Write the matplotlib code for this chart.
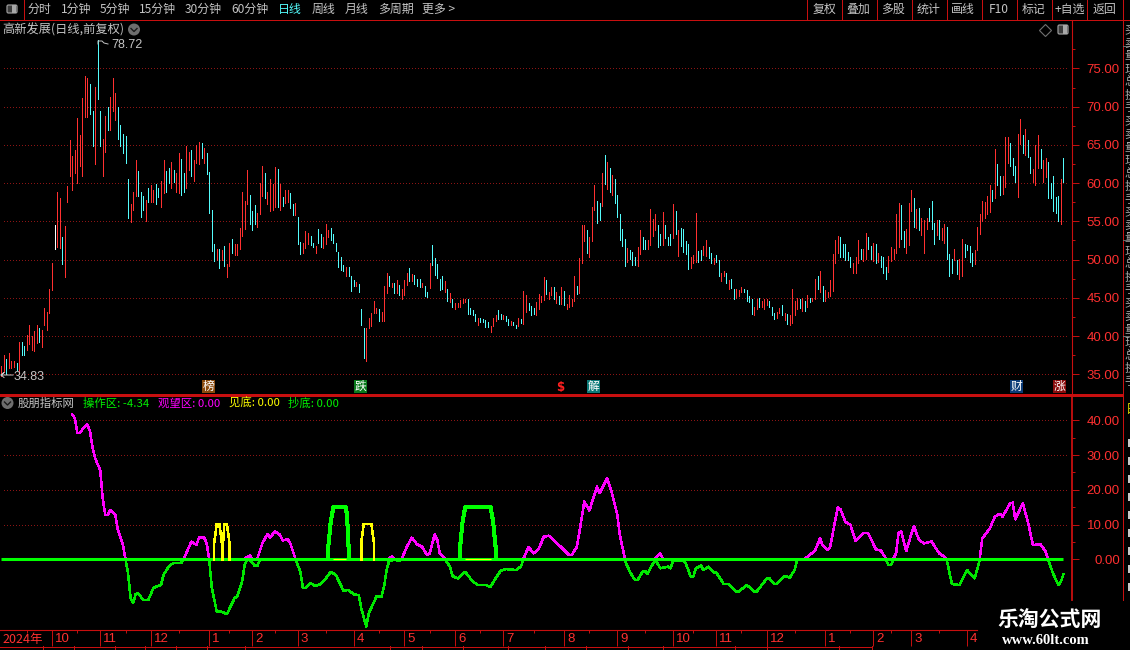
import numpy as np
import matplotlib
matplotlib.use('Agg')
import matplotlib.pyplot as plt
from matplotlib.patches import Rectangle, Circle, FancyBboxPatch

plt.rcParams['font.family'] = ['Noto Sans CJK SC', 'DejaVu Sans']
plt.rcParams['axes.unicode_minus'] = False

# K线 每根的最高/最低/颜色 r=涨 c=跌 w=平
bar_high = [
    36.1, 37.5, 37, 37.8, 36.8, 36.8, 36.5, 39.2, 39.2, 38.7,
    40.2, 41.5, 40, 40.7, 41.5, 41, 40.8, 43.7, 43.2, 46.1,
    49.5, 54.5, 58.8, 58, 53, 54.4, 59.6, 65.7, 63.5, 64.4,
    68.5, 66.3, 71.2, 74, 73.8, 73, 69.4, 72.6, 78.72, 69.5,
    65.8, 68.8, 70, 71.3, 73.8, 71.8, 70, 67.6, 66.4, 66.2,
    60.6, 57.3, 58.8, 63, 61.6, 58.9, 58.3, 57.8, 59.3, 59.7,
    59.1, 59.9, 59.3, 60.3, 63, 61.6, 62, 62.8, 61.7, 61.3,
    63.9, 63.2, 61.3, 64.8, 64.1, 64.3, 63, 65, 65.4, 65.2,
    64.6, 64, 61.4, 56.5, 52, 51.4, 51.4, 51.2, 51.8, 49.4,
    52.2, 52.7, 52.1, 52, 54.1, 58.8, 57.6, 61.7, 58.4, 56.3,
    57.1, 56.1, 60, 62.3, 61.3, 58.8, 60.6, 59.9, 62.1, 61.9,
    59.9, 58.2, 59.1, 59.1, 58.7, 57.3, 57.4, 55.6, 52.3, 52.2,
    53.8, 53.5, 53.1, 52.2, 51.8, 54, 53.3, 52.9, 54.6, 53.9,
    54.1, 53.3, 52.2, 51, 50.3, 49.3, 49, 49, 47.8, 47.3,
    47.1, 46.8, 43.6, 41.1, 41, 42.3, 43, 44.6, 43.7, 43.5,
    43.1, 46.5, 48.2, 47.8, 47, 46.9, 47.3, 46.7, 46.1, 47.3,
    48.3, 48.9, 48.1, 48, 47.5, 47.5, 47, 46.5, 45.7, 49.5,
    51.9, 50.2, 49.4, 47.5, 47.8, 47.2, 46.2, 45.6, 44.9, 44.3,
    44.3, 44.7, 44.8, 44.9, 44.8, 43.7, 43.4, 42.9, 42.3, 42.3,
    42.2, 42.1, 41.8, 41.3, 42.3, 42.7, 43.4, 42.9, 42.7, 42.6,
    42.2, 42, 41.9, 41.4, 42.3, 42.2, 45.9, 45.4, 44.3, 43.9,
    43.7, 44.5, 45.5, 45.2, 47.7, 47.3, 45.7, 46.4, 46.4, 45.7,
    45.2, 46.4, 45.9, 44.2, 45.4, 44.9, 47.8, 46.5, 50.2, 54.5,
    54.5, 53.9, 52.9, 56.9, 59.8, 57.7, 57.4, 61.3, 63.7, 62.8,
    62, 61.1, 60.5, 58.5, 56, 54, 52.7, 51.5, 51.3, 51,
    50.4, 51.6, 53.9, 52.9, 52.6, 52.6, 56.6, 55.3, 56, 54.5,
    53.4, 56.2, 54.5, 53, 53.4, 57.3, 56.4, 53.9, 54.1, 54,
    52.4, 52.1, 50.4, 50.6, 56.1, 51.1, 51.3, 51.8, 52.6, 51.6,
    50.8, 50.2, 50.6, 50, 48.2, 48.5, 48.3, 47.3, 47.5, 46.1,
    46.2, 46, 46.4, 46.2, 46, 45.2, 44.9, 43.8, 44.8, 45,
    44.6, 44.8, 44.8, 44.6, 43.8, 43, 43.1, 43.7, 44, 43,
    42.9, 42.8, 46.2, 44.6, 45, 44.9, 45, 44.6, 45.4, 45,
    45, 47.4, 47.8, 48.5, 46.6, 46, 45.8, 47.3, 50.7, 52.6,
    53.1, 53, 52, 52, 51, 50.4, 49.5, 50.3, 52.6, 51.4,
    51.4, 53.5, 53, 51.8, 52.2, 52, 50.8, 50.5, 50.3, 49,
    50.5, 51.6, 51.4, 56, 57.4, 57.1, 53.8, 54, 57.4, 59.1,
    58, 56.6, 56.8, 55.4, 55.2, 55.5, 56.8, 57.6, 54.8, 55.2,
    55.2, 54.1, 54.7, 54.2, 50.7, 50.1, 51.4, 50, 50.1, 52.7,
    52.1, 51.9, 51.8, 50.8, 51.3, 54.2, 56, 57.7, 57.5, 58.3,
    59.8, 59.1, 64.5, 62.5, 60.9, 61, 66.1, 66, 65.3, 63.3,
    62.3, 66.4, 68.4, 66.3, 67.1, 65.6, 63.4, 61.9, 65, 66.3,
    64.5, 63, 63.3, 62.8, 60, 60.9, 58.2, 58.3, 60.6, 63.3,
]
bar_low = [
    34.83, 35.35, 35.1, 35.8, 35.8, 36, 35.6, 35.1, 37.5, 37.5,
    38.2, 38.9, 38.2, 38.1, 39.1, 39.2, 38.6, 41.4, 40.8, 43,
    46, 51.4, 51.6, 51.5, 49.4, 47.7, 57.5, 61, 59.1, 61.3,
    60, 62.2, 60.9, 68.7, 68.7, 69, 64.9, 62.5, 71, 64.8,
    61, 64.1, 67, 67, 69.5, 68.2, 65.8, 64.9, 64, 62.6,
    55.4, 54.9, 56.5, 58.3, 58.3, 55.6, 56.5, 55.1, 57.5, 57.5,
    57.5, 57.3, 58.2, 56.9, 58.7, 58.9, 60, 59.3, 60.2, 58.9,
    58.7, 58.5, 58.8, 59.3, 61.7, 60.9, 60.3, 62.6, 62.5, 63.3,
    62.6, 61.2, 56.1, 51.1, 49.8, 50, 48.9, 50, 49.1, 47.7,
    49.1, 50.9, 50.6, 50.6, 51.4, 53.1, 54, 57.3, 54.7, 53.9,
    54.7, 54.2, 56, 58.3, 58.1, 57.3, 56.3, 56.5, 56.9, 56.9,
    56.5, 57, 57.4, 57.5, 56.8, 55.8, 55.8, 52, 50.7, 50.9,
    51.5, 52.1, 51.9, 51.6, 50.8, 52.2, 51.6, 51.5, 52, 53,
    52.6, 52.2, 51.1, 49, 48.6, 48.5, 47.9, 47.9, 45.9, 46.5,
    46.6, 45.7, 41.4, 37.1, 36.8, 41, 41.3, 43, 43, 42,
    42, 42, 45.6, 46.5, 46.4, 45.6, 45.6, 45.4, 44.9, 45.4,
    46.7, 47.2, 47.2, 46.8, 46.6, 46.4, 46.4, 45.3, 45.1, 46.3,
    49.3, 48, 47.6, 46, 46.1, 45.7, 44.6, 44.4, 43.8, 43.5,
    43.8, 43.8, 44.3, 44.4, 42.9, 42.9, 42.7, 42, 41.5, 41.9,
    41.8, 41.2, 41.2, 40.5, 41.3, 42, 42.2, 42.2, 42.2, 42,
    41.5, 41.5, 41.4, 41, 41.3, 41.7, 41.6, 43.2, 43.4, 42.7,
    42.9, 42.7, 43.5, 44.5, 44.7, 45.5, 44.9, 45.4, 44.9, 44.3,
    44.2, 44.2, 44, 43.5, 43.8, 43.9, 44.6, 45.5, 45.6, 49.6,
    52.4, 50.9, 50.4, 52.4, 56.5, 54.8, 55.2, 57, 59.9, 59.2,
    58.8, 58.4, 57.4, 55.6, 52.6, 51.8, 49.2, 49.7, 50.1, 49.3,
    49.3, 49.2, 50.7, 51.4, 51.4, 51.4, 51.9, 53.1, 53.9, 51.6,
    51.9, 51.9, 52.8, 51.9, 51.9, 52.8, 53.4, 50.5, 51.8, 51,
    50.7, 48.8, 48.9, 49.6, 49.7, 49.7, 50, 50.6, 50.5, 50.2,
    49.6, 49.4, 49.7, 47.8, 47.2, 47.9, 47, 46.1, 46.3, 44.8,
    45, 45.2, 45.7, 45.7, 44.6, 44.5, 42.9, 42.8, 43.6, 43.8,
    43.8, 43.5, 44, 43.8, 42.8, 42.2, 42.3, 43, 42.8, 42.1,
    41.6, 41.4, 41.7, 42.8, 43.5, 43.7, 43.3, 43.3, 43.8, 44.4,
    44.6, 44.8, 46.1, 45.7, 44.6, 44.6, 45.1, 45.2, 45.9, 49.6,
    50.9, 50.4, 50.4, 50, 50, 49, 48.2, 48.2, 49.6, 50.1,
    49.8, 50.1, 51.4, 50.1, 49.8, 49.6, 49.7, 49, 48.2, 47.4,
    48.4, 49.8, 50.1, 50.9, 51.6, 52.7, 51.6, 50.8, 51.9, 56.4,
    54.2, 54.1, 53.9, 53.2, 50.9, 54, 55, 54, 52.1, 53.2,
    52.7, 52.5, 52.2, 50.1, 47.8, 48.2, 50, 48.1, 47.5, 47.9,
    50.4, 51.2, 49.7, 49.1, 49.4, 51.3, 53.3, 55.1, 55.5, 56,
    56.2, 57.7, 58, 59.8, 58.5, 58.6, 59.5, 62.7, 62.3, 61.1,
    60.1, 58.2, 65.1, 63.9, 63.7, 63.4, 61.3, 60.1, 59.8, 62,
    62, 60.1, 60.8, 58, 58.1, 56.4, 56.1, 55, 54.6, 60.1,
]
bar_kind = (
    'rrcrrrcrcc' 'rrrrrcrrrr' 'rwrrcrrrrr' 'rrrrrccrcc' 'rrcrrrcccc'
    'crrrcccrcr' 'rccrrccrcr' 'rccrrcrrrc' 'rccccrcrcr' 'rcrrrrrrcc'
    'crrrcrrrrc' 'rcrrccrccr' 'rrccrccrrr' 'ccccccrccc' 'rcccrrrrrc'
    'rrrcrcrcrr' 'rcrcccrccr' 'cccccrcrcr' 'rrrrccccrc' 'cccrrrccrc'
    'crccrcrrcc' 'crrrrcrrcr' 'crcrrrrcrr' 'rcrrrccrcr' 'crcccccrcc'
    'crrccrrrrc' 'crcccrcrcc' 'ccrrrccrrc' 'crccrrcrcc' 'rrrccccrrc'
    'rrrcccrrcr' 'crrrrcrcrc' 'rrcrcrrrrr' 'rcccccrrrc' 'rrccrcrccc'
    'rrrrrccrrr' 'crcrrrcccr' 'crrcccrcrr' 'ccccrrrrrr' 'rcrccrrrcc'
    'crrcrccrrr' 'crrcccccrc'
)

# 指标线 分段读的 (K线序号, 数值)
magenta_x = [
    [28, 29, 30, 31, 32, 34, 35, 36, 37, 39, 40, 41, 42, 43, 45, 46, 48, 49],
    [72, 75, 77, 78, 80, 81, 82],
    [96, 98, 99],
    [101, 103, 105, 106, 108, 110, 111, 113, 114, 116],
    [153, 154, 155],
    [158, 160, 162, 164, 166, 168, 169, 171, 172, 173, 175],
    [206, 208, 210, 212, 214, 216, 220, 224, 225, 227, 228, 230, 232, 235, 236, 239, 241, 243, 244, 246],
    [258, 260, 261],
    [317, 321, 323, 324, 326, 327, 330, 331, 333, 335, 337, 340, 342, 345, 347, 349],
    [352, 353, 354, 355, 357, 360, 362, 364, 367, 370, 372, 373],
    [386, 387, 390, 392, 394, 395, 398, 399, 400, 403, 405, 407, 410, 412, 413],
]
magenta_y = [
    [41.7, 40.6, 36.3, 36.3, 37.4, 38.8, 36.8, 32.2, 29.1, 25.7, 17.6, 12.8, 12.8, 14.2, 12.8, 8.4, 4.1, 0],
    [0.2, 5.1, 4.1, 6.3, 6.3, 4.6, 0.2],
    [0.2, 1.1, 0.2],
    [0.2, 4.6, 7.3, 6.3, 8, 7, 5.4, 5.8, 4.6, 0.2],
    [0.2, 0.8, 0.2],
    [0.2, 3.6, 6.2, 4.3, 3.6, 1.2, 1.7, 7.2, 5.5, 1.7, 0.2],
    [0.2, 3.5, 1.7, 2.9, 6.5, 6.8, 4.1, 1.2, 1.2, 3.5, 7.5, 16.6, 14, 20.9, 19, 23.3, 18.8, 12.8, 7, 0.2],
    [0.2, 1.7, 0.2],
    [0.2, 2.4, 6, 4.1, 2.7, 3.6, 15, 14.4, 10.8, 9.9, 5.3, 7.5, 7.5, 2.9, 2.5, 0.2],
    [0.2, 1.7, 7.7, 8, 2.4, 9.6, 5.6, 4.6, 5.1, 1.7, 0.8, 0],
    [0.2, 6, 8.9, 12.3, 13.1, 12.3, 16.1, 16.3, 11.5, 16.1, 10.8, 4.1, 4.3, 2.2, 0],
]
green_x = [
    [49, 50, 51, 52, 53, 54, 56, 58, 60, 61, 63, 64, 66, 68, 71, 72],
    [82, 83, 85, 87, 89, 92, 93, 95, 96, 97, 98, 100, 101, 102],
    [116, 118, 119, 120, 122, 124, 126, 128, 130, 132, 135, 137, 139, 141, 142, 144, 145, 148, 150, 151, 152, 153, 155, 157, 158],
    [175, 177, 178, 180, 183, 186, 188, 191, 193, 195, 197, 199, 203, 205, 206],
    [246, 248, 250, 251, 253, 254, 255, 256, 258, 260, 263, 264, 265, 269, 270, 272, 273, 274, 276, 277, 279, 281, 282, 285, 287, 290, 291, 294, 296, 297, 298, 300, 302, 303, 305, 306, 309, 311, 313, 314],
    [349, 350, 351, 352],
    [373, 375, 378, 381, 384, 386],
    [413, 415, 417, 418, 419],
]
green_y = [
    [0, -4, -11.2, -12.6, -10, -9.8, -11.7, -11.7, -8.3, -7.9, -7.4, -4.5, -2.1, -1, -1, 0],
    [0, -7.9, -15.1, -15.1, -15.8, -11.2, -10.7, -6.4, -1.6, 0, -0.2, -1.9, -1.9, -0.2],
    [0, -3.6, -8.3, -8.2, -6.9, -7.7, -7.1, -5.5, -3.6, -4.5, -9.1, -8.8, -10.1, -10.3, -14.1, -19.4, -15.5, -10.7, -10.7, -7.9, -3.1, -0.4, -0.2, -0.4, -0.2],
    [0, -2.1, -4.8, -5.5, -3.6, -6.4, -7.4, -7.4, -7.9, -5.5, -3.3, -2.8, -3.1, -2.1, 0],
    [-0.4, -3.6, -6, -6, -3.6, -3.3, -4.2, -2.6, -0.2, -2.6, -2.1, -2.6, -0.4, -0.4, -1.2, -5, -5, -2.6, -1.8, -3.1, -2.1, -3.8, -3.8, -7.1, -7.1, -9.3, -9.3, -7.4, -8.5, -9.3, -9.3, -7.4, -5.5, -5.5, -7.1, -7.1, -4.8, -5.3, -3.1, 0],
    [-0.2, -1.6, -1.6, -0.2],
    [-0.2, -7.1, -7.4, -3.1, -5.5, -0.2],
    [-0.2, -4.2, -7.4, -6.5, -4.34],
]
# 见底 黄色小方块
yellow_x = [[84, 84, 85, 86, 87, 87], [87.5, 87.5, 88, 89, 90, 90], [142, 142, 143, 146, 147, 147]]
yellow_y = [[0, 4.8, 10.2, 10.2, 4.8, 0], [0, 4.8, 10.2, 10.2, 4.8, 0], [0, 4.8, 10.2, 10.2, 4.8, 0]]
# 抄底 粗绿方块
box_x = [[129, 129, 130, 131, 136, 136.5, 137, 137], [181, 181, 182, 183, 193, 194, 195, 195]]
box_y = [[0, 3.6, 11, 15, 15, 11, 3.6, 0], [0, 3.6, 11, 15, 15, 11, 3.6, 0]]

price_ticks = [35, 40, 45, 50, 55, 60, 65, 70, 75]
price_minor = [37.5, 42.5, 47.5, 52.5, 57.5, 62.5, 67.5, 72.5, 77.5]
ind_ticks = [0, 10, 20, 30, 40]
ind_minor = [5, 15, 25, 35]
month_pos = [20, 39, 59, 82, 99, 117, 139, 159, 179, 198, 222, 243, 265, 282, 302, 325, 344, 359, 381]
month_labels = ['10', '11', '12', '1', '2', '3', '4', '5', '6', '7', '8', '9', '10', '11', '12', '1', '2', '3', '4']
month_minor = [10, 30, 49, 70, 90, 108, 128, 149, 169, 189, 210, 232, 254, 273, 292, 313, 335, 351, 370]

RED = '#ff3030'
CYAN = '#54fcfc'
LINE_RED = '#c80f0f'
GRID = '#8c1414'
TXT = '#c4c4c4'
W, H = 1130, 650

fig = plt.figure(figsize=(W / 100, H / 100), dpi=100, facecolor='black')
ax1 = fig.add_axes([0, (H - 394) / H, 1072 / W, 374 / H], facecolor='black')
ax2 = fig.add_axes([0, (H - 630) / H, 1072 / W, 235 / H], facecolor='black')

x = np.arange(len(bar_high))
colors = {'r': RED, 'c': CYAN, 'w': 'white'}
ax1.vlines(x, bar_low, bar_high, colors=[colors[k] for k in bar_kind], linewidth=0.55, antialiased=False, zorder=3)

xl = (-0.513, 422.4)
for ax in (ax1, ax2):
    ax.set_xlim(xl)
    for s in ('top', 'left', 'bottom'):
        ax.spines[s].set_visible(False)
    ax.yaxis.tick_right()
    ax.spines['right'].set_color(LINE_RED)

ax1.set_xticks([])
ax1.set_ylim(32.42, 81.34)
ax2.set_ylim(-20.35, 47.28)

# 价格坐标和虚线网格
def style_y(ax, ticks, minor):
    ax.set_yticks(ticks)
    ax.set_yticklabels(['%.2f' % t for t in ticks])
    ax.set_yticks(minor, minor=True)
    ax.tick_params(axis='y', which='major', length=5, width=0.7, color=LINE_RED,
                   labelcolor=RED, labelsize=9.5, pad=29.5, labelfontfamily='Liberation Sans')
    ax.tick_params(axis='y', which='minor', length=2.5, width=0.7, color=LINE_RED)
    for lab in ax.get_yticklabels():
        lab.set_ha('right')

style_y(ax1, price_ticks, price_minor)
style_y(ax2, ind_ticks, ind_minor)
ax1.spines['right'].set_linewidth(0.8)
ax2.spines['right'].set_linewidth(1.3)
ax2.spines['right'].set_bounds(-11.7, 47.28)

ax1.hlines(price_ticks, 1, 421, colors=GRID, linewidth=0.5, linestyles=(0, (1.4, 3.4)), antialiased=False, zorder=1)
ax2.hlines(ind_ticks[1:], 1, 421, colors=GRID, linewidth=0.5, linestyles=(0, (1.4, 3.4)), antialiased=False, zorder=1)

# 下面的指标线
ax2.plot([0, 419], [0, 0], color='#00ff00', linewidth=2.2, solid_capstyle='butt', zorder=4)
ax2.hlines(0, 131, 136, colors='#ffff00', linewidth=0.8, zorder=5)
ax2.hlines(0, 183, 193, colors='#ffff00', linewidth=0.8, zorder=5)
for xs, ys in zip(magenta_x, magenta_y):
    ax2.plot(xs, ys, color='#ff00ff', linewidth=1.1, antialiased=False, zorder=3)
for xs, ys in zip(green_x, green_y):
    ax2.plot(xs, ys, color='#00e800', linewidth=1.1, antialiased=False, zorder=3)
for xs, ys in zip(yellow_x, yellow_y):
    ax2.plot(xs, ys, color='#ffff00', linewidth=1.1, antialiased=False, zorder=5)
for xs, ys in zip(box_x, box_y):
    ax2.plot(xs, ys, color='#00ff00', linewidth=2.2, antialiased=False, zorder=6)

# 日期轴
ax2.spines['bottom'].set_visible(True)
ax2.spines['bottom'].set_color(LINE_RED)
ax2.spines['bottom'].set_linewidth(0.8)
ax2.spines['bottom'].set_bounds(-0.5, 385)
ax2.set_xticks(month_pos)
ax2.tick_params(axis='x', which='major', length=11.5, width=0.7, color=LINE_RED, labelbottom=False)
ax2.set_xticks(month_minor, minor=True)
ax2.tick_params(axis='x', which='minor', length=2.2, width=0.7, color=LINE_RED)
for pos, lab in zip(month_pos, month_labels):
    ax2.annotate(lab, xy=(pos, 0), xycoords=('data', 'axes fraction'), xytext=(3, -9), textcoords='offset pixels',
                 ha='left', va='center', color=RED, fontsize=9.5, family='Liberation Sans')
ax2.annotate('2024年', xy=(0, 0), xycoords=('axes fraction', 'axes fraction'), xytext=(2, -9), textcoords='offset pixels',
             ha='left', va='center', color=RED, fontsize=9)

# 外框 按钮 文字
top = fig.add_axes([0, 0, 1, 1], zorder=10)
top.set_xlim(0, W)
top.set_ylim(H, 0)
top.axis('off')
top.patch.set_alpha(0)

def hline(x0, x1, y, lw=0.6, c=LINE_RED):
    top.plot([x0, x1], [y, y], color=c, linewidth=lw, antialiased=False, solid_capstyle='butt')

def vline(xp, y0, y1, lw=0.6, c=LINE_RED):
    top.plot([xp, xp], [y0, y1], color=c, linewidth=lw, antialiased=False, solid_capstyle='butt')

hline(0, W, 19.5)
hline(0, 1123, 394.5, 0.9)
hline(0, 872, 646.5)
vline(1123, 0, 600)
vline(24, 0, 19)
for xp in [807, 841.5, 876.5, 911.5, 946.5, 981.5, 1016.5, 1051.5, 1087]:
    vline(xp, 0, 19)
for xp in [43, 74, 115, 145, 176, 207, 245, 390, 422, 463, 508, 545, 586, 628, 663, 735, 767, 839, 872]:
    vline(xp, 646, 650)

top.add_patch(FancyBboxPatch((7, 5), 10, 8, boxstyle='round,pad=0,rounding_size=1.5', fc='#3c3c3c', ec='#9a9a9a', lw=0.9))
top.add_patch(Rectangle((12, 5), 4, 8, fc='#a8a8a8', ec='none'))

tool_items = [('分时', 28), ('1分钟', 61), ('5分钟', 100), ('15分钟', 139), ('30分钟', 185), ('60分钟', 231),
              ('日线', 278), ('周线', 312), ('月线', 345), ('多周期', 378), ('更多 >', 422),
              ('复权', 812.5), ('叠加', 846.5), ('多股', 881), ('统计', 917), ('画线', 951), ('F10', 989),
              ('标记', 1022), ('+自选', 1054.5), ('返回', 1093)]
for name, xp in tool_items:
    top.text(xp, 9.5, name, color=CYAN if name == '日线' else TXT, fontsize=8.6, ha='left', va='center')

def chevron(xc, yc):
    top.add_patch(Circle((xc, yc), 6, fc='#6e6e6e', ec='none'))
    top.plot([xc - 3, xc, xc + 3], [yc - 1, yc + 2, yc - 1], color='#1a1a1a', linewidth=1)

top.text(2, 29.5, '高新发展(日线,前复权)', color=TXT, fontsize=8.8, ha='left', va='center')
chevron(134, 29.5)
top.plot([1045], [30], marker='D', ms=6, mfc='none', mec='#707070', mew=0.8)
top.add_patch(FancyBboxPatch((1058, 25), 10, 9, boxstyle='round,pad=0,rounding_size=1.5', fc='#3c3c3c', ec='#9a9a9a', lw=0.9))
top.add_patch(Rectangle((1063, 25), 4, 9, fc='#a8a8a8', ec='none'))

# 最高最低标注
top.plot([98, 98, 102, 104, 108], [44, 41, 41, 43, 44], color=TXT, linewidth=0.7)
top.text(111, 45.5, '78.72', color=TXT, fontsize=9, family='Liberation Sans', ha='left', va='center')
top.plot([13, 1, 4, 1, 4], [375, 375, 372.5, 375, 377.5], color=TXT, linewidth=0.7)
top.text(14, 377, '34.83', color=TXT, fontsize=9, family='Liberation Sans', ha='left', va='center')

# 信息地雷小方块
for ch, xp, bg in [('榜', 202, '#8a4a0c'), ('跌', 354, '#0a7a1c'), ('解', 587, '#0c7a78'),
                   ('财', 1010, '#0c3c78'), ('涨', 1053, '#8a0c0c')]:
    top.add_patch(Rectangle((xp, 380), 13, 13, fc=bg, ec='none'))
    top.text(xp + 6.5, 386.3, ch, color='white', fontsize=8.5, ha='center', va='center')
top.text(560, 388, '$', color='#ff2020', fontsize=8.5, family='DejaVu Sans', weight='bold', ha='center', va='center')

# 指标行
chevron(7.5, 403)
legend_items = [('股朋指标网', 18, TXT), ('操作区: -4.34', 83, '#00f000'), ('观望区: 0.00', 158, '#ff00ff'),
                ('见底: 0.00', 229, '#ffff00'), ('抄底: 0.00', 288, '#00f000')]
for name, xp, c in legend_items:
    top.text(xp, 403, name, color=c, fontsize=8.2, ha='left', va='center')

# 右边露出来的一条行情信息
for i, yp in enumerate(range(30, 392, 13)):
    top.text(1124.5, yp, '买卖量现总换手'[i % 7], color='#a8a8a8', fontsize=8.5, ha='left', va='center')
top.text(1126, 409, '日', color='#d8d800', fontsize=9, ha='left', va='center')
for yp in [443, 461, 479, 497, 515, 533, 551, 569, 587]:
    top.add_patch(Rectangle((1128, yp - 4), 2, 8, fc='#c8c8c8', ec='none'))
hline(1123, W, 45.5, c='#6a6a6a')
hline(1123, W, 240, c='#6a6a6a')
hline(1123, W, 336, c='#6a6a6a')

# 水印
top.text(1050, 619.5, '乐淘公式网', color='white', fontsize=15, weight='bold', ha='center', va='center')
top.text(1046, 640, 'www.60lt.com', color='white', fontsize=10.5, weight='bold', family='Liberation Serif', ha='center', va='center')

fig.savefig('out.png', dpi=100, facecolor='black')
